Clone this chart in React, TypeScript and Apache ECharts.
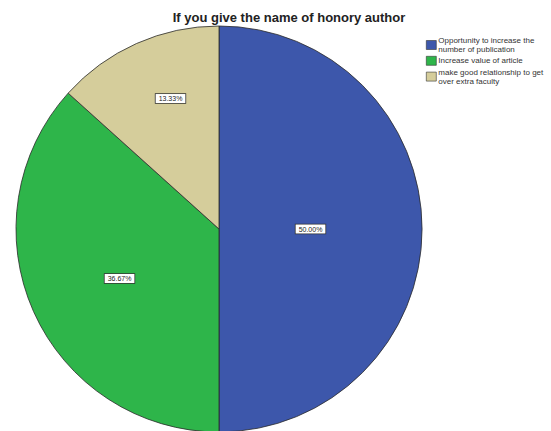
import React, { useEffect, useRef } from "react";
import * as echarts from "echarts";

const categories = [
  "Opportunity to increase the\nnumber of publication",
  "Increase value of article",
  "make good relationship to get\nover extra faculty",
];
const values = [50.0, 36.67, 13.33];
const colors = ["#3d57ab", "#2eb54a", "#d5cd9b"];
const labelOffsets = [
  [-13, 0],
  [-4, 7],
  [-6, -35],
];

export default function App() {
  const ref = useRef<HTMLDivElement>(null);
  useEffect(() => {
    if (!ref.current) return;
    const chart = echarts.init(ref.current, undefined, { renderer: "svg" });
    chart.setOption({
      animation: false,
      backgroundColor: "#ffffff",
      title: {
        text: "If you give the name of honory author",
        left: 284,
        textAlign: "center",
        top: 6,
        textStyle: {
          fontFamily: "Liberation Sans, Arial, sans-serif",
          fontSize: 13,
          fontWeight: "bold",
          color: "#222",
        },
      },
      legend: {
        orient: "vertical",
        left: 421,
        top: 31,
        itemWidth: 10,
        itemHeight: 9,
        itemGap: 2,
        icon: "rect",
        data: categories,
        textStyle: {
          fontFamily: "Liberation Sans, Arial, sans-serif",
          fontSize: 8,
          lineHeight: 9,
          color: "#333",
          padding: [0, 0, 0, -3],
        },
        itemStyle: { borderColor: "#333", borderWidth: 0.6 },
      },
      series: [
        {
          type: "pie",
          center: [219, 229],
          radius: 203,
          startAngle: 90,
          clockwise: true,
          avoidLabelOverlap: false,
          itemStyle: { borderColor: "#2a2a2a", borderWidth: 0.8 },
          label: {
            show: true,
            position: "inside",
            formatter: (p: any) => p.value.toFixed(2) + "%",
            fontFamily: "Liberation Sans, Arial, sans-serif",
            fontSize: 7,
            color: "#222",
            backgroundColor: "#ffffff",
            borderColor: "#333",
            borderWidth: 0.8,
            padding: [1, 3],
          },
          labelLine: { show: false },
          emphasis: { disabled: true },
          data: categories.map((name, i) => ({
            name,
            value: values[i],
            itemStyle: { color: colors[i] },
            label: { offset: labelOffsets[i] },
          })),
        },
      ],
    });
    return () => chart.dispose();
  }, []);
  return (
    <div
      ref={ref}
      style={{ position: "fixed", left: 0, top: 0, width: 551, height: 431 }}
    />
  );
}
